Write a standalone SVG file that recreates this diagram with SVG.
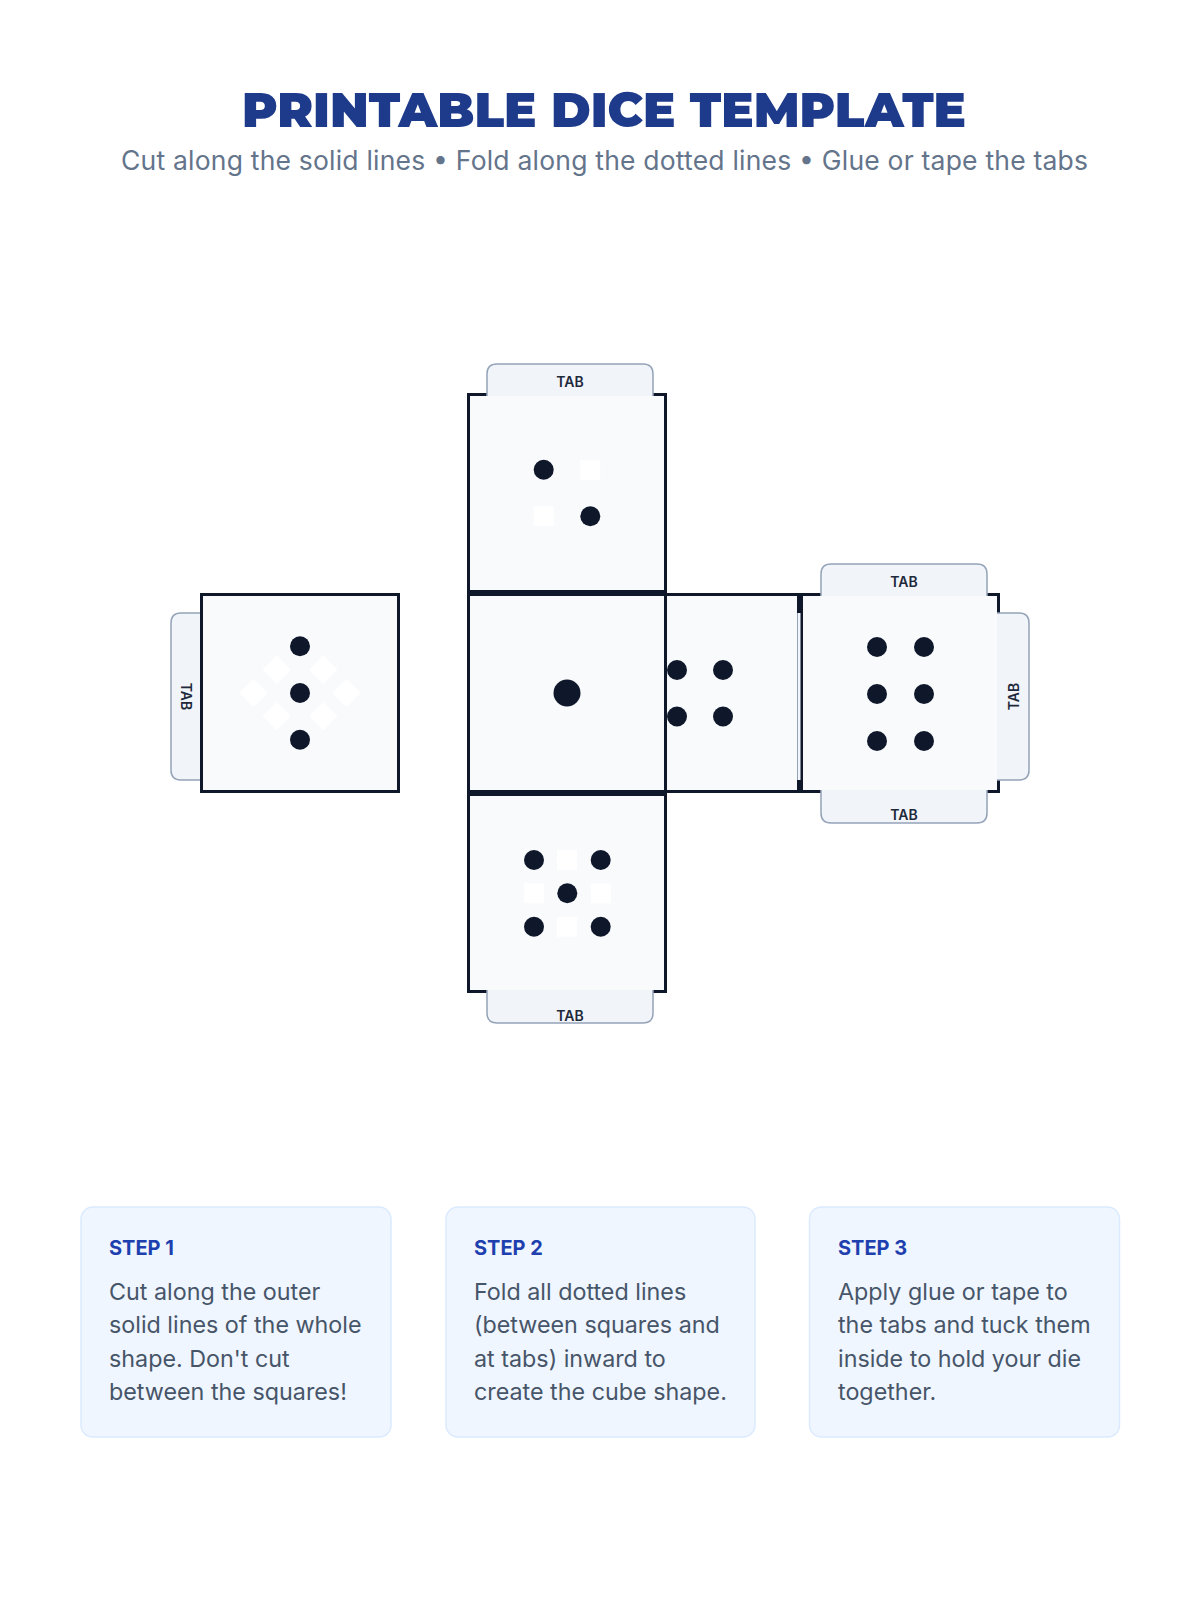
<svg xmlns="http://www.w3.org/2000/svg" width="1200" height="1600" viewBox="0 0 1200 1600">
<style>
.face{fill:#f8fafc;stroke:#0f172a;stroke-width:3}
.pip{fill:#0f172a}
.cell{fill:#ffffff}
.tab{fill:#f1f5f9;stroke:#94a3b8;stroke-width:1.5}
.tabt{font-family:Inter,"Liberation Sans",sans-serif;font-size:14px;font-weight:600;fill:#1e293b;text-anchor:middle}
.title{font-family:Montserrat,Inter,"Liberation Sans",sans-serif;font-size:48px;font-weight:900;fill:#1e3a8a}
.sub{font-family:Inter,"Liberation Sans",sans-serif;font-size:26.5px;fill:#64748b}
.box{fill:#eff6ff;stroke:#dbeafe;stroke-width:1.5}
.step{font-family:Inter,"Liberation Sans",sans-serif;font-size:20px;font-weight:700;fill:#1e40af}
.body{font-family:Inter,"Liberation Sans",sans-serif;font-size:23.3px;fill:#475569}
</style>
<rect width="1200" height="1600" fill="#ffffff"/>
<text class="title" x="242" y="127" textLength="724" lengthAdjust="spacingAndGlyphs">PRINTABLE DICE TEMPLATE</text>
<text class="sub" x="121" y="170" textLength="967" lengthAdjust="spacing">Cut along the solid lines • Fold along the dotted lines • Glue or tape the tabs</text>

<g id="connectors"></g>

<!-- left face (3) -->
<g id="face-three">
<path class="tab" d="M203,613 H181 Q171,613 171,623 V770 Q171,780 181,780 H203"/>
<text class="tabt" transform="translate(186,696.5) rotate(90)" y="5">TAB</text>
<rect class="face" x="201.5" y="594.5" width="197" height="197"/>
<g transform="translate(300,693) rotate(45)">
<rect class="cell" x="-43" y="-10" width="20" height="20"/>
<rect class="cell" x="-10" y="-43" width="20" height="20"/>
<rect class="cell" x="-10" y="23" width="20" height="20"/>
<rect class="cell" x="23" y="-10" width="20" height="20"/>
<rect class="cell" x="23" y="-43" width="20" height="20"/>
<rect class="cell" x="-43" y="23" width="20" height="20"/>
</g>
<circle class="pip" cx="300" cy="646.3" r="10"/>
<circle class="pip" cx="300" cy="693" r="10"/>
<circle class="pip" cx="300" cy="739.7" r="10"/>
</g>

<!-- top face (2) -->
<g id="face-two">
<rect class="face" x="468.5" y="394.5" width="197" height="197"/>
<path class="tab" d="M487,396 V374 Q487,364 497,364 H643 Q653,364 653,374 V396"/>
<text class="tabt" x="570" y="387">TAB</text>
<rect class="cell" x="580.3" y="459.7" width="20" height="20"/>
<rect class="cell" x="533.7" y="506.3" width="20" height="20"/>
<circle class="pip" cx="543.7" cy="469.7" r="10"/>
<circle class="pip" cx="590.3" cy="516.3" r="10"/>
</g>

<!-- six face -->
<g id="face-six">
<rect class="face" x="801.5" y="594.5" width="197" height="197"/>
<path class="tab" d="M821,596 V574 Q821,564 831,564 H977 Q987,564 987,574 V596"/>
<text class="tabt" x="904" y="587">TAB</text>
<path class="tab" d="M821,790 V813 Q821,823 831,823 H977 Q987,823 987,813 V790"/>
<text class="tabt" x="904" y="820">TAB</text>
<path class="tab" d="M997,613 H1019 Q1029,613 1029,623 V770 Q1029,780 1019,780 H997"/>
<text class="tabt" transform="translate(1013.5,696.5) rotate(-90)" y="5">TAB</text>
<circle class="pip" cx="877" cy="647" r="10"/>
<circle class="pip" cx="924" cy="647" r="10"/>
<circle class="pip" cx="877" cy="694" r="10"/>
<circle class="pip" cx="924" cy="694" r="10"/>
<circle class="pip" cx="877" cy="741" r="10"/>
<circle class="pip" cx="924" cy="741" r="10"/>
</g>

<!-- four face (partly under the one face) -->
<g id="face-four">
<rect class="face" x="601.5" y="594.5" width="197" height="197"/>
<rect x="797.5" y="613" width="3" height="167" fill="#f1f5f9"/>
<line x1="797.5" y1="613" x2="797.5" y2="780" stroke="#94a3b8" stroke-width="1"/>
<circle class="pip" cx="677" cy="670" r="10"/>
<circle class="pip" cx="723" cy="670" r="10"/>
<circle class="pip" cx="677" cy="716.5" r="10"/>
<circle class="pip" cx="723" cy="716.5" r="10"/>
</g>

<!-- one face -->
<g id="face-one">
<rect class="face" x="468.5" y="594.5" width="197" height="197"/>
<circle class="pip" cx="567" cy="693" r="13.5"/>
</g>

<!-- bottom face (5) -->
<g id="face-five">
<rect class="face" x="468.5" y="794.5" width="197" height="197"/>
<path class="tab" d="M487,990 V1013 Q487,1023 497,1023 H643 Q653,1023 653,1013 V990"/>
<text class="tabt" x="570" y="1021">TAB</text>
<rect class="cell" x="557" y="850" width="20" height="20"/>
<rect class="cell" x="524" y="883.3" width="20" height="20"/>
<rect class="cell" x="590.7" y="883.3" width="20" height="20"/>
<rect class="cell" x="557" y="916.7" width="20" height="20"/>
<circle class="pip" cx="534" cy="860" r="10"/>
<circle class="pip" cx="600.7" cy="860" r="10"/>
<circle class="pip" cx="567.3" cy="893.3" r="10"/>
<circle class="pip" cx="534" cy="926.7" r="10"/>
<circle class="pip" cx="600.7" cy="926.7" r="10"/>
</g>

<g id="step-1">
<rect class="box" x="81" y="1207" width="310" height="230" rx="12"/>
<text class="step" x="109" y="1255">STEP 1</text>
<text class="body" x="109" y="1300">Cut along the outer</text>
<text class="body" x="109" y="1333.3">solid lines of the whole</text>
<text class="body" x="109" y="1366.7">shape. Don't cut</text>
<text class="body" x="109" y="1400">between the squares!</text>
</g>
<g id="step-2">
<rect class="box" x="446" y="1207" width="309" height="230" rx="12"/>
<text class="step" x="474" y="1255">STEP 2</text>
<text class="body" x="474" y="1300">Fold all dotted lines</text>
<text class="body" x="474" y="1333.3">(between squares and</text>
<text class="body" x="474" y="1366.7">at tabs) inward to</text>
<text class="body" x="474" y="1400">create the cube shape.</text>
</g>
<g id="step-3">
<rect class="box" x="809.5" y="1207" width="310" height="230" rx="12"/>
<text class="step" x="838" y="1255">STEP 3</text>
<text class="body" x="838" y="1300">Apply glue or tape to</text>
<text class="body" x="838" y="1333.3">the tabs and tuck them</text>
<text class="body" x="838" y="1366.7">inside to hold your die</text>
<text class="body" x="838" y="1400">together.</text>
</g>
</svg>
